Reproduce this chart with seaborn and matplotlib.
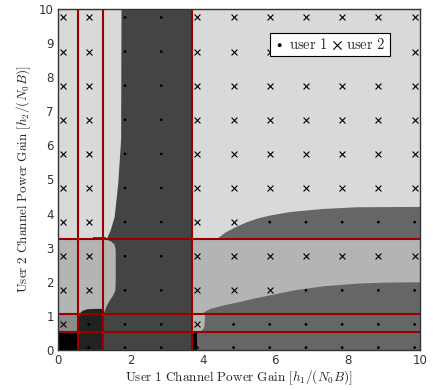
import numpy as np
import pandas as pd
import seaborn as sns
import matplotlib.pyplot as plt

# grid of operating points (channel gains)
x_pts = [0.15, 0.85, 1.85, 2.85, 3.85, 4.85, 5.85, 6.85, 7.85, 8.85, 9.85]
y_pts = [0.07, 0.75, 1.75, 2.75, 3.75, 4.75, 5.75, 6.75, 7.75, 8.75, 9.75]

# which user is scheduled at each point, rows go bottom -> top
user_rows = [
    [1, 1, 1, 1, 1, 1, 1, 1, 1, 1, 1],
    [2, 1, 1, 1, 2, 1, 1, 1, 1, 1, 1],
    [2, 2, 1, 1, 2, 2, 2, 1, 1, 1, 1],
    [2, 2, 1, 1, 2, 2, 2, 2, 2, 2, 2],
    [2, 2, 1, 1, 2, 2, 1, 1, 1, 1, 1],
    [2, 2, 1, 1, 2, 2, 2, 2, 2, 2, 2],
    [2, 2, 1, 1, 2, 2, 2, 2, 2, 2, 2],
    [2, 2, 1, 1, 2, 2, 2, 2, 2, 2, 2],
    [2, 2, 1, 1, 2, 2, 2, 2, 2, 2, 2],
    [2, 2, 1, 1, 2, 2, 2, 2, 2, 2, 2],
    [2, 2, 1, 1, 2, 2, 2, 2, 2, 2, 2],
]

# threshold lines
red_x = [0.55, 1.25, 3.7]
red_y = [0.52, 1.06, 3.25]

# region boundaries
lower_x = [3.7, 3.95, 4.0, 4.1, 4.2, 4.6, 5.0, 5.4, 5.86, 6.5, 7.3, 8.25, 9.0, 10.0]
lower_y = [1.06, 1.06, 1.10, 1.17, 1.22, 1.33, 1.42, 1.52, 1.62, 1.76, 1.88, 1.96, 1.99, 2.0]
upper_x = [3.7, 4.36, 4.45, 4.6, 4.9, 5.2, 5.5, 5.86, 6.4, 7.3, 8.25, 10.0]
upper_y = [3.25, 3.25, 3.33, 3.45, 3.62, 3.76, 3.87, 3.96, 4.06, 4.15, 4.2, 4.21]
col_y = [0, 1.06, 1.17, 1.3, 1.42, 1.6, 1.75, 2.0, 2.95, 3.1, 3.2, 3.25, 3.3, 3.52, 3.91, 4.89, 6.2, 10]
col_left = [1.25, 1.25, 1.28, 1.33, 1.39, 1.5, 1.57, 1.58, 1.58, 1.55, 1.45, 1.33, 1.35, 1.44, 1.55, 1.65, 1.73, 1.74]
bump_x = [0.55, 0.6, 0.68, 0.8, 1.0, 1.25]
bump_y = [1.06, 1.1, 1.17, 1.21, 1.22, 1.22]
notch_x = [3.7, 3.9, 3.98, 4.03, 4.05]
notch_y = [0.55, 0.56, 0.6, 0.7, 1.06]

L1, L2, L25, L3, L4, L5 = "#d9d9d9", "#b4b4b4", "#8c8c8c", "#666666", "#444444", "#222222"

rows = []
for j, yv in enumerate(y_pts):
    for i, xv in enumerate(x_pts):
        rows.append({"h1": xv, "h2": yv, "user": "user %d" % user_rows[j][i]})
df = pd.DataFrame(rows)

sns.set_style("white")
plt.rcParams["mathtext.fontset"] = "cm"
plt.rcParams["font.family"] = ["DejaVu Sans"]

fig = plt.figure(figsize=(4.33, 3.9), dpi=100)
ax = fig.add_axes([0.134, 0.1026, 0.836, 0.8744])

# regions
ax.fill_between([0, 10], 0, 10, color=L1, lw=0)
ax.fill_between([0, 10], 1.06, 3.25, color=L2, lw=0)
ax.fill_between(lower_x, 0, lower_y, color=L3, lw=0)
ax.fill_between(upper_x, 3.25, upper_y, color=L3, lw=0)
ax.fill_betweenx(notch_y, 3.7, notch_x, color=L2, lw=0)
ax.fill_between([3.7, 3.85], 0, 0.52, color="black", lw=0)
ax.fill_between([0, 0.55], 0, 0.52, color="black", lw=0)
ax.fill_between([0, 0.55], 0.52, 1.06, color=L25, lw=0)
ax.fill_between([0.55, 1.25], 0, 1.06, color=L5, lw=0)
ax.fill_between(bump_x, 1.0, bump_y, color=L5, lw=0)
ax.fill_betweenx(col_y, col_left, 3.7, color=L4, lw=0)
ax.fill_between([0.98, 1.33], 3.25, 3.31, color=L4, lw=0)

for xv in red_x:
    ax.axvline(xv, color="#9a0000", lw=1.5, zorder=3)
for yv in red_y:
    ax.axhline(yv, color="#9a0000", lw=1.5, zorder=3)

sns.scatterplot(data=df[df.user == "user 1"], x="h1", y="h2", marker="o", s=4,
                color="black", edgecolor="none", label=r"$\mathrm{user\ 1}$", ax=ax, zorder=4)
sns.scatterplot(data=df[df.user == "user 2"], x="h1", y="h2", marker="x", s=18,
                color="black", linewidth=0.8, label=r"$\mathrm{user\ 2}$", ax=ax, zorder=4)

ax.set_xlim(0, 10)
ax.set_ylim(0, 10)
ax.set_xticks(range(0, 11, 2))
ax.set_yticks(range(0, 11))
ax.tick_params(length=0, labelsize=8.5, labelcolor="#333333", pad=3)
ax.set_xlabel(r"$\mathrm{User\ 1\ Channel\ Power\ Gain}\ [h_1/(N_0B)]$", fontsize=9.5, labelpad=1)
ax.set_ylabel(r"$\mathrm{User\ 2\ Channel\ Power\ Gain}\ [h_2/(N_0B)]$", fontsize=9.5, labelpad=4)
for s in ax.spines.values():
    s.set_color("#333333")
    s.set_linewidth(1.0)
    s.set_zorder(5)

leg = ax.legend(ncol=2, loc="upper left", bbox_to_anchor=(0.566, 0.952), fontsize=10.5,
                frameon=True, fancybox=False, framealpha=1, edgecolor="black",
                handlelength=0.7, handletextpad=0.3, columnspacing=0.3,
                borderpad=0.3, markerscale=1.4)
leg.get_frame().set_linewidth(0.8)

fig.savefig("out.png", dpi=100)
